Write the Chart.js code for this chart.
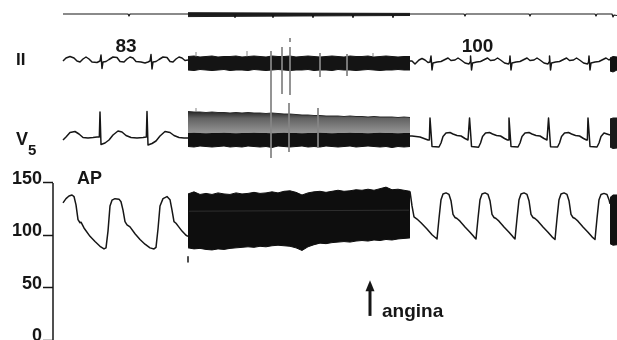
<!DOCTYPE html>
<html>
<head>
<meta charset="utf-8">
<script src="https://cdn.jsdelivr.net/npm/chart.js@4.4.1/dist/chart.umd.min.js"></script>
<style>
  html, body { margin: 0; background: #fff; }
  canvas { display: block; }
</style>
</head>
<body>
<canvas id="trace" width="617" height="340"></canvas>
<script>
// ===== Recording data =====
// time in ms, ECG leads in mV, arterial pressure in mmHg, event marker in mm

const apTicks = [0, 50, 100, 150];

// event marker channel
const markerLine = [[0,0],[975,0],[990,-2],[1005,0],[2565,0],[2580,-3.5],[2595,0],[3135,0],[3150,-3.5],[3165,0],
  [3735,0],[3750,-3.5],[3765,0],[4335,0],[4350,-3.5],[4365,0],[4935,0],[4950,-3.5],[4965,0],[6015,0],[6030,-2],[6045,0],
  [6990,0],[7005,-2],[7020,0],[7980,0],[7995,-2],[8010,0],[8235,0],[8250,-3],[8265,-1],[8310,-1.5]];
const markerBandT = [1875, 3540, 5205];
const markerBandTop = [1.3, 0.9, 0.6];
const markerBandBottom = [-2.6, -2.0, -1.5];

// lead II, 83/min before the compressed run
const iiBefore = [[0,0],[45,0.3],[105,0.45],[165,0.3],[210,0],[255,-0.1],[300,0.2],[345,0.4],[390,0.2],[435,-0.1],
  [510,-0.15],[555,0],[570,0.6],[585,-0.75],[600,-0.1],[645,-0.05],[690,0.15],[750,0.4],[810,0.35],[855,-0.05],
  [915,-0.1],[960,0.2],[1005,0.4],[1050,0.3],[1095,-0.05],[1170,-0.1],[1230,-0.2],[1275,-0.1],[1305,0],[1320,0.65],
  [1335,-0.8],[1350,-0.1],[1395,-0.05],[1440,0.15],[1500,0.4],[1560,0.35],[1605,-0.05],[1650,-0.1],[1695,0.2],
  [1740,0.4],[1785,0.3],[1830,0.05],[1875,0.1]];

// lead II, 100/min after the run
const iiAfter = [[5205,0],[5235,0],[5280,-0.3],[5340,0.1],[5385,0.25],[5430,0.1],[5475,-0.15],[5505,-0.1],
  [5520,0.5],[5535,-0.9],[5550,-0.2],[5610,-0.1],[5670,-0.05],[5730,0.15],[5775,0.3],[5820,0.05],[5880,0.1],[5925,0.3],[5970,0.1],[6030,-0.2],[6090,-0.3],[6105,-0.1],
  [6113,0.5],[6128,-0.9],[6143,-0.2],[6203,-0.1],[6263,-0.05],[6323,0.15],[6368,0.3],[6413,0.05],[6473,0.1],[6518,0.3],[6563,0.1],[6623,-0.2],[6683,-0.3],[6698,-0.1],
  [6705,0.5],[6720,-0.9],[6735,-0.2],[6795,-0.1],[6855,-0.05],[6915,0.15],[6960,0.3],[7005,0.05],[7065,0.1],[7110,0.3],[7155,0.1],[7215,-0.2],[7275,-0.3],[7290,-0.1],
  [7298,0.5],[7313,-0.9],[7328,-0.2],[7388,-0.1],[7448,-0.05],[7508,0.15],[7553,0.3],[7598,0.05],[7658,0.1],[7703,0.3],[7748,0.1],[7808,-0.2],[7868,-0.3],[7883,-0.1],
  [7890,0.5],[7905,-0.9],[7920,-0.2],[7980,-0.1],[8040,-0.05],[8100,0.15],[8145,0.3],[8190,0.1],[8205,0.2]];

// lead V5
const v5Before = [[0,0],[45,0.3],[105,0.75],[180,0.85],[240,0.6],[300,0.25],[375,0.2],[450,0.25],[510,0.3],[545,0.3],
  [555,2.8],[570,-0.45],[630,-0.3],[690,0],[750,0.5],[825,0.9],[885,0.8],[945,0.45],[1020,0.25],[1110,0.2],[1200,0.25],
  [1250,0.3],[1260,2.85],[1275,-0.5],[1335,-0.35],[1395,-0.1],[1455,0.4],[1530,0.85],[1605,0.75],[1665,0.45],
  [1740,0.25],[1815,0.2],[1875,0.2]];

const v5After = [[5205,0.4],[5235,0.4],[5295,0.35],[5355,0.3],[5415,0.15],[5475,0],[5495,0],
  [5505,2.2],[5520,0.8],[5535,-0.65],[5640,-0.7],[5670,-0.3],[5700,0.35],[5745,0.7],[5805,0.75],[5850,0.6],[5910,0.45],[5970,0.4],[6030,0.15],[6075,0],[6088,0],
  [6098,2.2],[6113,0.8],[6128,-0.65],[6233,-0.72],[6263,-0.3],[6293,0.35],[6338,0.7],[6398,0.75],[6443,0.6],[6503,0.45],[6563,0.4],[6623,0.15],[6668,0],[6680,0],
  [6690,2.2],[6705,0.8],[6720,-0.65],[6825,-0.7],[6855,-0.3],[6885,0.35],[6930,0.7],[6990,0.75],[7035,0.6],[7095,0.45],[7155,0.4],[7215,0.15],[7260,0],[7273,0],
  [7283,2.2],[7298,0.8],[7313,-0.68],[7418,-0.7],[7448,-0.3],[7478,0.35],[7523,0.7],[7583,0.75],[7628,0.6],[7688,0.45],[7748,0.4],[7808,0.15],[7853,0],[7865,0],
  [7875,2.2],[7890,0.8],[7905,-0.65],[8010,-0.7],[8040,-0.3],[8070,0.35],[8115,0.7],[8160,0.6],[8205,0.5]];

// arterial pressure
const apBefore = [[0,131],[45,135],[90,137.5],[135,138.5],[165,137],[195,129],[225,115],[255,112],[270,112.5],[315,107],
  [405,99],[480,94],[555,89.5],[615,87],[645,88],[675,104],[705,128],[735,133.5],[780,135],[840,134.5],[870,132],
  [900,124],[930,113],[960,110],[1005,108],[1080,101.5],[1155,96],[1230,91.5],[1305,88],[1365,87],[1395,88.5],
  [1425,106],[1455,128],[1500,135],[1560,137],[1605,134],[1635,124],[1665,113],[1695,111.5],[1725,109],[1785,104],
  [1845,100],[1875,99]];

const apAfter = [[5205,142],[5235,128],[5265,117.5],[5310,115.5],[5370,112],[5460,106],[5535,100.5],[5610,96.5],
  [5640,116],[5670,134],[5700,139.5],[5745,140.5],[5790,139],[5820,133],[5850,120],[5880,117],[5910,116],[5955,113.5],[6030,108],[6105,103],[6165,98.5],[6195,96.5],
  [6225,116],[6255,134],[6285,139.5],[6330,140.5],[6375,139],[6405,133],[6435,120],[6465,117],[6495,116],[6540,113.5],[6615,108],[6690,103],[6750,98.5],[6780,96.5],
  [6810,116],[6840,134],[6870,139.5],[6915,140.5],[6960,139],[6990,133],[7020,120],[7050,117],[7080,116],[7125,113.5],[7200,108],[7275,103],[7335,98.5],[7380,96],
  [7410,116],[7440,134],[7470,139.5],[7515,140.5],[7560,139],[7590,133],[7620,120],[7650,117],[7680,116],[7725,113.5],[7800,108],[7875,103],[7935,98.5],[7980,96],
  [8010,116],[8040,134],[8070,139],[8115,140],[8160,139],[8190,134],[8205,130]];

// compressed run: envelope of each channel
const runT = [1875,1965,2055,2145,2235,2325,2415,2505,2595,2685,2775,2865,2955,3045,3135,3225,3315,3405,3495,
  3585,3675,3765,3855,3945,4035,4125,4215,4305,4395,4485,4575,4665,4755,4845,4935,5025,5115,5205];
const iiRunTop = [0.45,0.5,0.4,0.45,0.5,0.4,0.45,0.45,0.5,0.4,0.45,0.5,0.45,0.4,0.5,0.45,0.45,0.5,0.4,0.45,
  0.5,0.45,0.4,0.45,0.5,0.45,0.4,0.5,0.45,0.45,0.5,0.4,0.45,0.5,0.45,0.4,0.45,0.45];
const iiRunBottom = [-0.9,-0.95,-0.85,-0.9,-0.95,-0.9,-0.85,-0.95,-0.9,-0.9,-0.95,-0.85,-0.9,-0.95,-0.9,-0.85,-0.9,-0.95,-0.9,-0.9,
  -0.85,-0.95,-0.9,-0.9,-0.95,-0.85,-0.9,-0.9,-0.95,-0.9,-0.85,-0.9,-0.95,-0.9,-0.9,-0.85,-0.9,-0.9];
const v5RunTop = [2.85,2.8,2.8,2.75,2.8,2.75,2.75,2.7,2.75,2.7,2.75,2.7,2.7,2.65,2.7,2.65,2.6,2.6,2.55,2.5,
  2.5,2.45,2.45,2.4,2.4,2.4,2.35,2.4,2.35,2.35,2.3,2.35,2.3,2.3,2.3,2.25,2.3,2.25];
const v5RunMid = [0.7,0.72,0.7,0.68,0.7,0.7,0.72,0.7,0.68,0.7,0.7,0.72,0.7,0.7,0.68,0.7,0.72,0.7,0.7,0.68,
  0.7,0.7,0.72,0.7,0.68,0.7,0.7,0.72,0.7,0.7,0.68,0.7,0.72,0.7,0.7,0.68,0.7,0.7];
const v5RunBottom = [-0.65,-0.7,-0.6,-0.65,-0.7,-0.65,-0.6,-0.7,-0.65,-0.7,-0.6,-0.65,-0.7,-0.65,-0.75,-0.6,-0.65,-0.7,-0.65,-0.6,
  -0.7,-0.65,-0.7,-0.6,-0.65,-0.7,-0.65,-0.6,-0.7,-0.65,-0.6,-0.65,-0.7,-0.65,-0.75,-0.65,-0.7,-0.65];
const apRunTop = [139.5,141.5,139,140,139,140.5,139.5,139,140.5,139.5,140,141,140,140.5,141.5,140.5,142,142.5,141,138.5,
  140.5,141.5,142,141,142,143,142,142.5,143.5,143,144,143,144.5,146,143.5,144,143,142];
const apRunBottom = [88,87,87.5,86.5,86,87,86.5,87.5,88,88.5,89,88.5,89.5,89,90,90.5,90,89.5,88,85.5,
  89,91,92.5,92,93,93.5,94,93.5,94.5,95,94.5,95.5,95,96,95.5,96.5,97,97.5];

// second run starting at the right edge
const endT = [8205, 8250, 8310];
const iiEndTop = [0.3, 0.45, 0.4];
const iiEndBottom = [-1.0, -1.1, -0.9];
const v5EndTop = [2.1, 2.2, 2.2];
const v5EndBottom = [-0.7, -0.85, -0.8];
const apEndTop = [136, 138.5, 138.5];
const apEndBottom = [92, 90.5, 91];

// artefact spikes during the run
const iiSpikes = [[1995,0.45],[1995,0.9],[1995,null],[2760,0.45],[2760,1.0],[2760,null],[3120,1.0],[3120,-4.0],[3120,null],
  [3285,1.4],[3285,-3.3],[3285,null],[3405,1.4],[3405,-3.4],[3405,null],[3405,2.3],[3405,1.9],[3405,null],
  [3855,0.8],[3855,-1.6],[3855,null],[4260,0.7],[4260,-1.5],[4260,null],[4650,0.45],[4650,0.8]];
const v5Spikes = [[1995,2.8],[1995,3.2],[1995,null],[3120,3.9],[3120,-1.8],[3120,null],[3390,3.7],[3390,-1.2],[3390,null],
  [3825,3.2],[3825,-0.8]];
const apSpikes = [[1875,79.5],[1875,74.5]];
const apStreak = [[1890,123],[5190,124]];

// annotations
const rateLabels = [{ text: '83', t: 945 }, { text: '100', t: 6218 }];
const rateLevel = 0.9;          // mV, lead II scale
const apLabel = { text: 'AP', t: 210, v: 149 };
const angina = { text: 'angina', t: 4605, textT: 4785, from: 23, to: 57, textV: 22 };

// ===== Helpers =====
const ink = '#161616';
const family = '"Liberation Sans", Arial, Helvetica, sans-serif';

const pts = pairs => pairs.map(p => ({ x: p[0], y: p[1] }));
const zip = (ts, vs) => ts.map((t, i) => ({ x: t, y: vs[i] }));

function trace(pairs, axis, width = 1.5, color = ink) {
  return { data: pts(pairs), yAxisID: axis, borderColor: color, borderWidth: width, pointRadius: 0, fill: false, spanGaps: false };
}

// stacked filled bands: each edge fills down to the next one
function band(ts, edges, axis, fills) {
  return edges.map((vals, i) => {
    const c = fills[Math.min(i, fills.length - 1)];
    return {
      data: zip(ts, vals), yAxisID: axis, pointRadius: 0, borderWidth: 1,
      borderColor: i === 0 && typeof c === 'function' ? '#2a2a2a' : (i < fills.length ? c : fills[fills.length - 1]),
      backgroundColor: c,
      fill: i < fills.length ? '+1' : false
    };
  });
}

// gray upper half of the V5 run
function v5Shade(context) {
  const chart = context.chart;
  if (!chart.chartArea || !chart.scales.yV5) return '#777';
  const s = chart.scales.yV5;
  const g = chart.ctx.createLinearGradient(0, s.getPixelForValue(2.8), 0, s.getPixelForValue(0.7));
  g.addColorStop(0, '#2a2a2a');
  g.addColorStop(0.3, '#626262');
  g.addColorStop(1, '#959595');
  return g;
}

const datasets = [
  trace(markerLine, 'yMark', 1.2),
  ...band(markerBandT, [markerBandTop, markerBandBottom], 'yMark', ['#1e1e1e']),
  trace(iiSpikes, 'yII', 1, '#858585'),
  trace(v5Spikes, 'yV5', 1, '#858585'),
  trace(apSpikes, 'yAP', 1.5),
  trace(apStreak, 'yAP', 1, 'rgba(120,120,120,0.3)'),
  trace(iiBefore, 'yII'),
  trace(iiAfter, 'yII'),
  trace(v5Before, 'yV5'),
  trace(v5After, 'yV5'),
  trace(apBefore, 'yAP'),
  trace(apAfter, 'yAP'),
  ...band(runT, [iiRunTop, iiRunBottom], 'yII', ['#141414']),
  ...band(runT, [v5RunTop, v5RunMid, v5RunBottom], 'yV5', [v5Shade, '#111']),
  ...band(runT, [apRunTop, apRunBottom], 'yAP', ['#0e0e0e']),
  ...band(endT, [iiEndTop, iiEndBottom], 'yII', ['#111']),
  ...band(endT, [v5EndTop, v5EndBottom], 'yV5', ['#1a1a1a']),
  ...band(endT, [apEndTop, apEndBottom], 'yAP', ['#111'])
];

// ===== Labels, pressure axis line, angina arrow =====
const overlay = {
  id: 'overlay',
  afterDraw(chart) {
    const { ctx, chartArea, scales } = chart;
    const x = scales.x, ap = scales.yAP, ii = scales.yII, v5 = scales.yV5;
    ctx.save();
    ctx.fillStyle = ink;
    ctx.strokeStyle = ink;

    ctx.lineWidth = 1.5;
    ctx.beginPath();
    ctx.moveTo(chartArea.left, ap.getPixelForValue(apTicks[0]));
    ctx.lineTo(chartArea.left, ap.getPixelForValue(apTicks[apTicks.length - 1]));
    ctx.stroke();

    ctx.textAlign = 'left';
    ctx.textBaseline = 'alphabetic';
    ctx.font = `bold 17px ${family}`;
    ctx.fillText('II', 16, ii.getPixelForValue(-0.4));
    ctx.font = `bold 18px ${family}`;
    ctx.fillText('V', 16, v5.getPixelForValue(-0.5));
    ctx.font = `bold 15px ${family}`;
    ctx.fillText('5', 28, v5.getPixelForValue(-1.5));

    ctx.font = `bold 19px ${family}`;
    ctx.textAlign = 'center';
    rateLabels.forEach(r => ctx.fillText(r.text, x.getPixelForValue(r.t), ii.getPixelForValue(rateLevel)));

    ctx.textAlign = 'left';
    ctx.font = `bold 18px ${family}`;
    ctx.fillText(apLabel.text, x.getPixelForValue(apLabel.t), ap.getPixelForValue(apLabel.v));

    const ax = x.getPixelForValue(angina.t);
    const tip = ap.getPixelForValue(angina.to);
    ctx.lineWidth = 3;
    ctx.beginPath();
    ctx.moveTo(ax, ap.getPixelForValue(angina.from));
    ctx.lineTo(ax, tip + 8);
    ctx.stroke();
    ctx.beginPath();
    ctx.moveTo(ax, tip);
    ctx.lineTo(ax - 4.5, tip + 11);
    ctx.lineTo(ax + 4.5, tip + 11);
    ctx.closePath();
    ctx.fill();
    ctx.font = `bold 19px ${family}`;
    ctx.fillText(angina.text, x.getPixelForValue(angina.textT), ap.getPixelForValue(angina.textV));
    ctx.restore();
  }
};

new Chart(document.getElementById('trace'), {
  type: 'line',
  data: { datasets },
  options: {
    responsive: false,
    animation: false,
    events: [],
    layout: { padding: 0 },
    elements: {
      line: { tension: 0, borderJoinStyle: 'round', borderCapStyle: 'butt' },
      point: { radius: 0 }
    },
    plugins: { legend: { display: false }, tooltip: { enabled: false } },
    scales: {
      x: { type: 'linear', min: -150, max: 8310, display: false },
      yMark: { type: 'linear', min: -326, max: 14, display: false },
      yII: { type: 'linear', min: -27.9, max: 6.1, display: false },
      yV5: { type: 'linear', min: -20, max: 14, display: false },
      yAP: {
        type: 'linear',
        position: 'left',
        min: 0,
        max: 324.7,
        afterBuildTicks: axis => { axis.ticks = apTicks.map(v => ({ value: v })); },
        afterFit: axis => { axis.width = 53; axis.paddingTop = 0; axis.paddingBottom = 0; },
        border: { display: false },
        grid: { drawOnChartArea: false, drawTicks: true, tickLength: 10, tickColor: ink, tickWidth: 1.5 },
        ticks: {
          autoSkip: false,
          padding: 1,
          labelOffset: -4,
          color: ink,
          font: { family: family, size: 18, weight: 'bold' }
        }
      }
    }
  },
  plugins: [overlay]
});
</script>
</body>
</html>
